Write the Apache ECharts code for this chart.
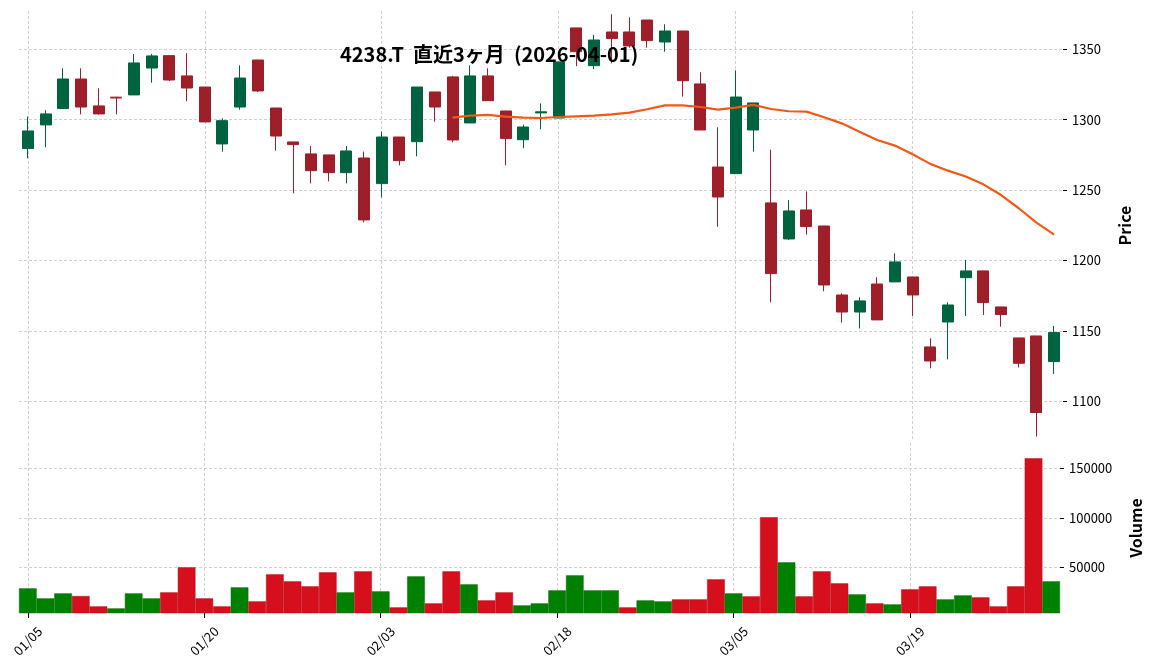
<!DOCTYPE html>
<html>
<head>
<meta charset="utf-8">
<script src="https://cdn.jsdelivr.net/npm/echarts@6/dist/echarts.min.js"></script>
<style>html,body{margin:0;padding:0;background:#fff;}#c{width:1152px;height:670px;}</style>
</head>
<body>
<div id="c"></div>
<script>
const dates = ['01/05','01/06','01/07','01/08','01/09','01/13','01/14','01/15','01/16','01/19',
  '01/20','01/21','01/22','01/23','01/26','01/27','01/28','01/29','01/30','02/02',
  '02/03','02/04','02/05','02/06','02/09','02/10','02/12','02/13','02/16','02/17',
  '02/18','02/19','02/20','02/24','02/25','02/26','02/27','03/02','03/03','03/04',
  '03/05','03/06','03/09','03/10','03/11','03/12','03/13','03/16','03/17','03/18',
  '03/19','03/23','03/24','03/25','03/26','03/27','03/30','03/31','04/01'];
const opens  = [1279.5,1296.3,1307.9,1328.9,1309.8,1316.0,1317.6,1336.7,1345.5,1331.1,
  1323.2,1282.8,1309.0,1342.4,1308.3,1284.2,1275.7,1275.0,1262.4,1272.8,
  1254.6,1287.7,1284.4,1319.7,1330.4,1297.7,1331.1,1306.2,1285.8,1304.8,
  1301.2,1365.2,1338.4,1362.3,1362.3,1370.8,1355.2,1363.0,1325.4,1266.4,
  1261.7,1292.7,1240.9,1215.3,1235.9,1224.5,1175.5,1163.4,1183.3,1184.8,
  1188.3,1138.6,1156.3,1187.8,1192.6,1167.0,1145.0,1146.4,1128.2];
const closes = [1292.0,1304.1,1328.9,1309.0,1304.1,1315.4,1340.3,1345.3,1328.2,1322.5,
  1298.4,1299.3,1329.6,1320.4,1288.4,1282.3,1263.8,1262.4,1277.8,1228.8,
  1287.7,1270.9,1323.2,1309.0,1285.6,1331.1,1313.5,1286.6,1294.8,1305.6,
  1341.0,1348.3,1356.6,1357.6,1352.4,1356.2,1363.0,1327.7,1292.7,1245.1,
  1316.1,1311.9,1190.7,1235.2,1224.1,1182.6,1163.4,1171.3,1157.8,1199.0,
  1175.5,1128.6,1168.4,1192.6,1170.1,1161.6,1127.0,1092.0,1148.8];
const lows   = [1272.6,1280.4,1307.9,1303.8,1303.6,1303.8,1317.6,1326.3,1327.5,1313.1,
  1298.4,1277.3,1307.1,1319.7,1278.0,1247.7,1254.8,1256.2,1254.8,1227.1,
  1244.9,1267.6,1274.0,1298.6,1284.0,1297.7,1313.5,1267.6,1279.7,1293.2,
  1301.2,1338.0,1335.8,1340.1,1351.2,1351.2,1348.3,1316.4,1292.7,1224.0,
  1261.7,1277.3,1170.3,1214.6,1218.4,1178.1,1155.9,1151.8,1157.8,1184.8,
  1160.6,1123.4,1129.8,1160.6,1161.3,1153.0,1124.1,1074.9,1119.4];
const highs  = [1302.2,1306.7,1336.5,1336.5,1322.3,1316.2,1346.7,1346.7,1345.5,1347.2,
  1323.2,1301.0,1338.6,1342.4,1308.3,1284.2,1281.3,1275.0,1281.3,1277.3,
  1291.5,1287.7,1323.2,1319.7,1331.1,1338.6,1336.5,1306.2,1296.5,1311.6,
  1341.0,1365.2,1360.2,1374.9,1372.7,1370.8,1367.8,1363.0,1333.7,1294.6,
  1335.1,1311.9,1278.7,1242.8,1249.1,1224.5,1176.7,1173.9,1188.1,1205.1,
  1188.3,1144.7,1170.3,1200.4,1192.6,1167.0,1145.0,1146.4,1153.5];
const volumes = [28960,18855,23906,21212,10774,8754,23906,18855,24916,50168,
  18855,10774,29966,15825,43098,36027,30976,45118,24916,46128,
  25926,9764,41077,13805,46128,32997,16835,24916,11785,13805,
  26936,42087,26936,26936,9764,16835,15825,17845,17845,38047,
  23906,20875,100673,55219,20875,46128,34007,22896,13805,12795,
  27946,30976,17845,21885,19865,10774,30976,160272,36027];
const volumeUp = [1,1,1,0,0,1,1,1,0,0, 0,0,1,0,0,0,0,0,1,0,
  1,0,1,0,0,1,0,0,1,1, 1,1,1,1,0,1,1,0,0,0,
  1,0,0,1,0,0,0,1,0,1, 0,0,1,1,0,0,0,0,1];
const ma25 = [null,null,null,null,null,null,null,null,null,null,
  null,null,null,null,null,null,null,null,null,null,
  null,null,null,null,1301.5,1302.9,1303.4,1302.2,1301.5,1301.2,
  1301.9,1302.4,1302.9,1303.8,1305.0,1307.4,1310.2,1310.2,1309.0,1307.1,
  1308.6,1310.5,1307.6,1306.0,1305.7,1301.7,1297.4,1291.5,1285.6,1281.6,
  1275.4,1268.6,1263.8,1259.6,1254.1,1246.5,1237.1,1226.9,1218.4];
const priceTicks = [1100,1150,1200,1250,1300,1350];
const volumeTicks = [50000,100000,150000];
const titleText = '4238.T  直近3ヶ月  (2026-04-01)';

const FONT = 'Noto Sans CJK JP';
const gridLine = {show: true, lineStyle: {color: '#c4c4c4', width: 0.8, type: [3, 2]}};
const candleData = dates.map((d, i) => [opens[i], closes[i], lows[i], highs[i]]);
const volData = volumes.map((v, i) => ({
  value: v,
  itemStyle: volumeUp[i] ? {color: '#008000', borderColor: '#0b6e0b'} : {color: '#d50f1c', borderColor: '#b80d18'}
}));
const plain = v => String(Math.round(v));

const chart = echarts.init(document.getElementById('c'));
chart.setOption({
  animation: false,
  backgroundColor: '#fff',
  textStyle: {fontFamily: FONT},
  title: {
    text: titleText, left: 340, top: 44, padding: 0,
    textStyle: {fontFamily: FONT, fontSize: 20, fontWeight: 'bold', color: '#000'}
  },
  grid: [
    {left: 19, width: 1044, top: 11, height: 429},
    {left: 19, width: 1044, top: 443, height: 170}
  ],
  xAxis: [
    {type: 'category', gridIndex: 0, data: dates, boundaryGap: true,
     axisLine: {show: false}, axisTick: {show: false}, axisLabel: {show: false},
     splitLine: Object.assign({interval: 9, alignWithLabel: true}, gridLine)},
    {type: 'category', gridIndex: 1, data: dates, boundaryGap: true,
     axisLine: {show: false},
     axisTick: {show: true, interval: 9, alignWithLabel: true, length: 5, lineStyle: {color: '#000', width: 1}},
     axisLabel: {interval: 9, rotate: 45, align: 'center', verticalAlign: 'middle', margin: 28,
       fontSize: 13, color: '#000', fontFamily: FONT},
     splitLine: Object.assign({interval: 9, alignWithLabel: true}, gridLine)}
  ],
  yAxis: [
    {type: 'value', gridIndex: 0, position: 'right', min: 1072.5, max: 1377.2,
     axisLine: {show: false},
     axisTick: {show: true, length: 4, customValues: priceTicks, lineStyle: {color: '#000'}},
     axisLabel: {customValues: priceTicks, formatter: plain, fontSize: 13, color: '#000', margin: 9, fontFamily: FONT},
     splitLine: gridLine,
     name: 'Price', nameLocation: 'middle', nameRotate: 90, nameGap: 54,
     nameTextStyle: {fontSize: 16, fontWeight: 'bold', color: '#000', fontFamily: FONT}},
    {type: 'value', gridIndex: 1, position: 'right', min: 4100, max: 175600,
     axisLine: {show: false},
     axisTick: {show: true, length: 4, customValues: volumeTicks, lineStyle: {color: '#000'}},
     axisLabel: {customValues: volumeTicks, formatter: plain, fontSize: 13, color: '#000', margin: 9, fontFamily: FONT},
     splitLine: gridLine,
     name: 'Volume', nameLocation: 'middle', nameRotate: 90, nameGap: 68,
     nameTextStyle: {fontSize: 16, fontWeight: 'bold', color: '#000', fontFamily: FONT}}
  ],
  series: [
    {type: 'candlestick', xAxisIndex: 0, yAxisIndex: 0, data: candleData, barWidth: 11.5,
     itemStyle: {color: '#006340', color0: '#9e1f29', borderColor: '#006340', borderColor0: '#9e1f29',
       borderColorDoji: '#9e1f29', borderWidth: 1}},
    {type: 'line', xAxisIndex: 0, yAxisIndex: 0, data: ma25, showSymbol: false, symbol: 'none',
     lineStyle: {color: '#f05a16', width: 2.2}, z: 3},
    {type: 'bar', xAxisIndex: 1, yAxisIndex: 1, data: volData, barWidth: '100%', barCategoryGap: '0%',
     itemStyle: {borderWidth: 0.5}}
  ]
});
</script>
</body>
</html>
